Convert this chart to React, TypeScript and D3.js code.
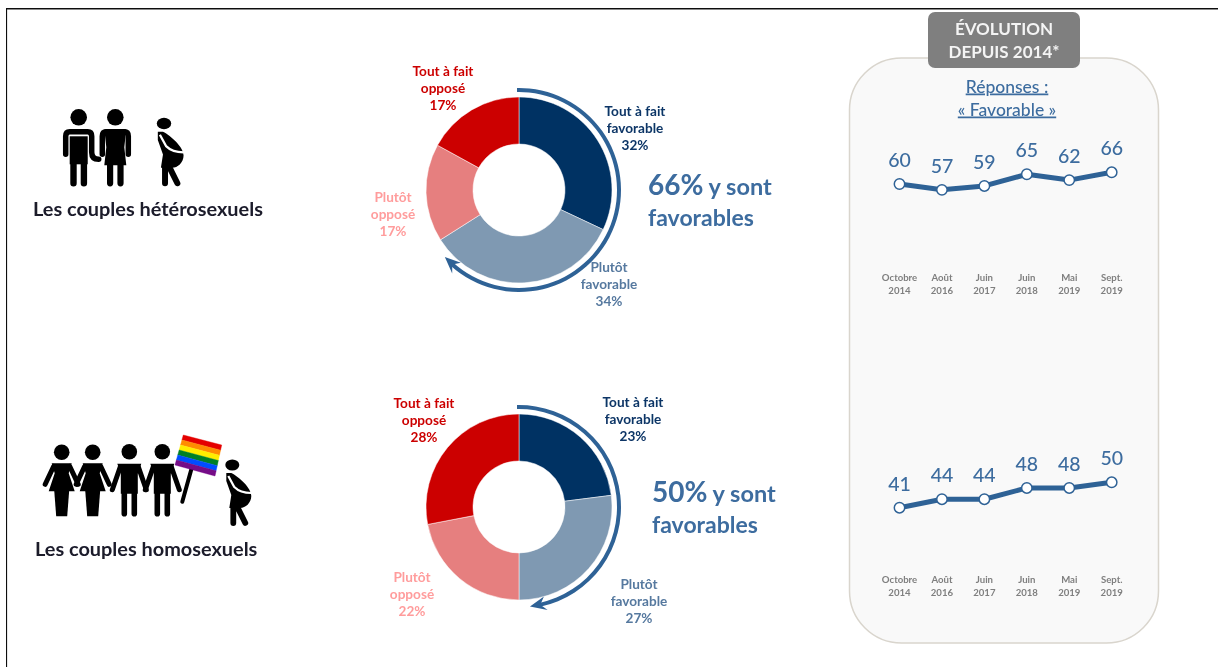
import React from "react";
import * as d3 from "d3";

const answers = ["Tout à fait favorable", "Plutôt favorable", "Plutôt opposé", "Tout à fait opposé"];
const heteroShares = [32, 34, 17, 17];
const homoShares = [23, 27, 22, 28];
const waves = ["Octobre 2014", "Août 2016", "Juin 2017", "Juin 2018", "Mai 2019", "Sept. 2019"];
const heteroTrend = [60, 57, 59, 65, 62, 66];
const homoTrend = [41, 44, 44, 48, 48, 50];
const heteroFavorable = 66;
const homoFavorable = 50;

const sliceColors = ["#003163", "#7f99b2", "#e67f7f", "#cc0000"];
const labelColors = ["#0b3566", "#56799f", "#ff9c9c", "#cc0000"];
const rainbow = ["#e40303", "#ff8c00", "#ffed00", "#008026", "#004dff", "#750787"];
const BLUE = "#3c6c9f";
const LINE = "#2f6296";
const FONT = "Lato, 'Open Sans', sans-serif";

const R_OUT = 93;
const R_IN = 46;
const R_ARC = 100;

function Donut({ cx, cy, shares, favorable, labelPos, tipShrink }: any) {
  const pie = d3.pie<number>().sort(null).value((d) => d);
  const arc = d3.arc<any>().innerRadius(R_IN).outerRadius(R_OUT);
  const rad = d3.scaleLinear().domain([0, 100]).range([0, 2 * Math.PI]);
  const tip = rad(favorable) - tipShrink;
  const headLen = 0.14;
  const ring = d3.arc<any>()({
    innerRadius: R_ARC - 2,
    outerRadius: R_ARC + 2,
    startAngle: -0.02,
    endAngle: tip - headLen * 0.7,
  });
  const polar = (a: number, r: number) => [Math.sin(a) * r, -Math.cos(a) * r];
  const head = [
    polar(tip, R_ARC),
    polar(tip - headLen * 1.15, R_ARC + 7),
    polar(tip - headLen * 0.75, R_ARC),
    polar(tip - headLen * 1.15, R_ARC - 7),
  ];
  return (
    <g>
      <g transform={`translate(${cx},${cy})`}>
        {pie(shares).map((s: any, i: number) => (
          <path key={answers[i]} d={arc(s) as string} fill={sliceColors[i]} stroke="#fff" strokeWidth={0.5} />
        ))}
        <path d={ring as string} fill={LINE} />
        <polygon points={head.map((p) => p.join(",")).join(" ")} fill={LINE} />
      </g>
      {shares.map((v: number, i: number) => {
        const words = i % 3 === 0 ? ["Tout à fait", i === 0 ? "favorable" : "opposé"] : ["Plutôt", i === 1 ? "favorable" : "opposé"];
        const [x, y] = labelPos[i];
        return (
          <text key={i} textAnchor="middle" fontFamily={FONT} fontWeight={700} fontSize={13.6} fill={labelColors[i]}>
            <tspan x={x} y={y + 4.5}>{words[0]}</tspan>
            <tspan x={x} y={y + 21.5}>{words[1]}</tspan>
            <tspan x={x} y={y + 38.5}>{v}%</tspan>
          </text>
        );
      })}
    </g>
  );
}

function BigNote({ x, y, value }: any) {
  return (
    <text fontFamily={FONT} fontWeight={700} fill={BLUE}>
      <tspan x={x} y={y + 10} fontSize={28}>{value}%</tspan>
      <tspan fontSize={23.5}> y sont</tspan>
      <tspan x={x} y={y + 41} fontSize={23}>favorables</tspan>
    </text>
  );
}

function Trend({ values, y, labelY }: any) {
  const x = d3.scalePoint<string>().domain(waves).range([899.5, 1111.7]);
  const line = d3.line<number>().x((_, i) => x(waves[i]) as number).y((d) => y(d));
  return (
    <g>
      <path d={line(values) as string} fill="none" stroke={LINE} strokeWidth={5} strokeLinejoin="round" />
      {values.map((v: number, i: number) => {
        const px = x(waves[i]) as number;
        return (
          <g key={i}>
            <circle cx={px} cy={y(v)} r={5.2} fill="#fff" stroke={LINE} strokeWidth={1.5} />
            <text x={px} y={y(v) - 17} textAnchor="middle" fontFamily={FONT} fontWeight={500} fontSize={19.5} fill={BLUE}>{v}</text>
          </g>
        );
      })}
      {waves.map((w) => {
        const parts = w.split(" ");
        const px = x(w) as number;
        return (
          <text key={w} textAnchor="middle" fontFamily={FONT} fontWeight={700} fontSize={9.6} fill="#7f7f7f">
            <tspan x={px} y={labelY + 3}>{parts[0]}</tspan>
            <tspan x={px} y={labelY + 16}>{parts[1]}</tspan>
          </text>
        );
      })}
    </g>
  );
}

const limb = { fill: "none", stroke: "#000", strokeLinecap: "round", strokeLinejoin: "round" } as any;

function Man({ x, y, hand }: any) {
  return (
    <g transform={`translate(${x},${y})`}>
      <circle r={8.3} />
      <path {...limb} strokeWidth={5.5} d={hand ? "M-13 37V19Q-13 14.5-9 14.5H9Q13 14.5 13 19V35Q13 42 20 42" : "M-13 37V19Q-13 14.5-9 14.5H9Q13 14.5 13 19V37"} />
      <rect x={-9} y={19} width={18} height={28} />
      <path {...limb} strokeWidth={6.4} d="M-5.2 40V66M5.2 40V66" />
    </g>
  );
}

function Woman({ x, y }: any) {
  return (
    <g transform={`translate(${x},${y})`}>
      <circle r={8.3} />
      <path {...limb} strokeWidth={5.5} d="M-13 37V19Q-13 14.5-9 14.5H9Q13 14.5 13 19V37" />
      <path d="M-11 12H11L9 30L11 48H-11L-9 30Z" />
      <path {...limb} strokeWidth={6.2} d="M-5.2 44V66M5.2 44V66" />
    </g>
  );
}

function MarchWoman({ x, y }: any) {
  return (
    <g transform={`translate(${x},${y})`}>
      <circle r={7.8} />
      <path {...limb} strokeWidth={5} d="M-8 14L-16.5 32M8 14L16.5 32" />
      <path d="M-10 11H10L7 21L13 39H-13L-7 21Z" />
      <path d="M-7.5 38H7.5L5.5 64H-5.5Z" />
    </g>
  );
}

function MarchMan({ x, y }: any) {
  return (
    <g transform={`translate(${x},${y})`}>
      <circle r={7.8} />
      <path {...limb} strokeWidth={5} d="M-9 15L-17 38M9 15L17 38" />
      <path d="M-12 12H12L8.5 22V42H-8.5V22Z" />
      <path {...limb} strokeWidth={5.6} d="M-5 38V62M5 38V62" />
    </g>
  );
}

function Pregnant({ x, y, k }: any) {
  return (
    <g transform={`translate(${x},${y}) scale(${k})`}>
      <ellipse rx={7} ry={5.5} />
      <path d="M-6 8H-1C7 12 19 23 19 31C19 38 13 43 8 43H-3L-1 30L-6 16Z" />
      <path {...limb} strokeWidth={5.8} d="M1 40V58M4 40L13 58" />
      <path fill="none" stroke="#fff" strokeWidth={2.2} d="M-4 11L2 22Q8 28 19 28" />
    </g>
  );
}

function Flag() {
  const tl = [183.3, 435], tr = [221.7, 445], br = [215, 476], bl = [175, 465];
  const mix = (a: number[], b: number[], t: number) => [a[0] + (b[0] - a[0]) * t, a[1] + (b[1] - a[1]) * t];
  const band = d3.scaleLinear().domain([0, rainbow.length]).range([0, 1]);
  return (
    <g>
      <path {...limb} strokeWidth={4} d="M191.7 468L182.3 501.7" />
      {rainbow.map((c, i) => {
        const pts = [mix(tl, bl, band(i)), mix(tr, br, band(i)), mix(tr, br, band(i + 1)), mix(tl, bl, band(i + 1))];
        return <polygon key={c} points={pts.map((p) => p.join(",")).join(" ")} fill={c} stroke={c} strokeWidth={0.4} />;
      })}
    </g>
  );
}

export default function App() {
  const yTop = d3.scaleLinear().domain([50, 70]).range([203.5, 164.5]);
  const yBottom = d3.scaleLinear().domain([40, 55]).range([510.5, 468.2]);
  return (
    <svg width={1218} height={667} viewBox="0 0 1218 667" style={{ position: "absolute", left: 0, top: 0, display: "block", background: "#fff" }}>
      <defs>
        <filter id="soft" x="0" y="0" width="100%" height="100%">
          <feGaussianBlur stdDeviation={0.5} />
        </filter>
      </defs>
      <g filter="url(#soft)">
        <path d="M6 667V8.5H1218" fill="none" stroke="#111" strokeWidth={2.2} />

        <Man x={78.7} y={117.3} hand />
        <Woman x={115.3} y={117.3} />
        <Pregnant x={164} y={123.5} k={1.03} />
        <text x={33} y={215.5} fontFamily={FONT} fontWeight={700} fontSize={19.9} fill="#1a1a2a">Les couples hétérosexuels</text>

        <MarchWoman x={61.7} y={452.3} />
        <MarchWoman x={92.7} y={452.3} />
        <MarchMan x={129.3} y={451.7} />
        <MarchMan x={162.3} y={451.7} />
        <Flag />
        <Pregnant x={232.3} y={465} k={1} />
        <text x={35} y={555.5} fontFamily={FONT} fontWeight={700} fontSize={19.9} fill="#1a1a2a">Les couples homosexuels</text>

        <Donut cx={519} cy={190} shares={heteroShares} favorable={heteroFavorable} tipShrink={0.17}
          labelPos={[[635, 111], [609, 267], [393, 197], [443, 71]]} />
        <BigNote x={648} y={185} value={heteroFavorable} />
        <Donut cx={519} cy={507} shares={homoShares} favorable={homoFavorable} tipShrink={0.11}
          labelPos={[[633, 402], [639, 584], [412, 577], [424, 403]]} />
        <BigNote x={652} y={492} value={homoFavorable} />

        <rect x={849.5} y={58} width={309} height={585} rx={52} fill="#f9f9f9" stroke="#d9d5cd" strokeWidth={1.5} />
        <rect x={928} y={12} width={152} height={56} rx={7} fill="#7f7f7f" />
        <text textAnchor="middle" fontFamily={FONT} fontWeight={700} fontSize={17} fill="#f4f4f4">
          <tspan x={1004} y={35}>ÉVOLUTION</tspan>
          <tspan x={1004} y={58}>DEPUIS 2014*</tspan>
        </text>
        <text textAnchor="middle" fontFamily={FONT} fontSize={17.5} fontWeight={500} fill={BLUE} textDecoration="underline">
          <tspan x={1007} y={92.5}>Réponses :</tspan>
          <tspan x={1007} y={115.5}>« Favorable »</tspan>
        </text>

        <Trend values={heteroTrend} y={yTop} labelY={278} />
        <Trend values={homoTrend} y={yBottom} labelY={580} />
      </g>
    </svg>
  );
}
